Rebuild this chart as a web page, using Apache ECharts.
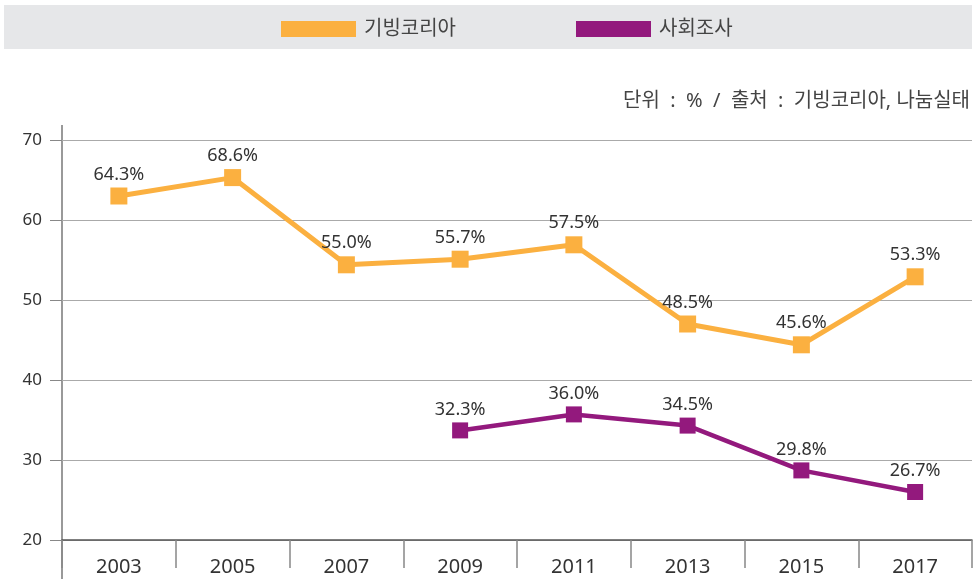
<!DOCTYPE html>
<html>
<head>
<meta charset="utf-8">
<script src="https://cdn.jsdelivr.net/npm/echarts@6/dist/echarts.min.js"></script>
<style>
  html, body { margin: 0; padding: 0; background: #fff; }
  #chart { width: 976px; height: 579px; }
</style>
</head>
<body>
<div id="chart"></div>
<script>
const years = ['2003', '2005', '2007', '2009', '2011', '2013', '2015', '2017'];
// 그림에서 읽은 점 위치 (라벨과 다소 다름)
const givingValues = [63.0, 65.3, 54.4, 55.1, 56.9, 47.0, 44.4, 52.9];
const givingLabels = ['64.3%', '68.6%', '55.0%', '55.7%', '57.5%', '48.5%', '45.6%', '53.3%'];
const surveyValues = [null, null, null, 33.7, 35.7, 34.3, 28.7, 26.0];
const surveyLabels = ['', '', '', '32.3%', '36.0%', '34.5%', '29.8%', '26.7%'];

const FONT = '"Noto Sans", "Noto Sans CJK KR", sans-serif';

const chart = echarts.init(document.getElementById('chart'), null, { renderer: 'canvas' });

const labelOf = (arr) => (p) => arr[p.dataIndex];

const option = {
  animation: false,
  textStyle: { fontFamily: FONT },
  graphic: [
    {
      type: 'rect', z: -1,
      shape: { x: 4, y: 5, width: 968, height: 44 },
      style: { fill: '#e6e7e9' }
    },
    {
      type: 'text', right: 6, top: 91,
      style: { text: '단위  :  %  /  출처  :  기빙코리아, 나눔실태', fontSize: 20, fill: '#444', fontFamily: FONT }
    },
    // 세로축 선이 그리드 위/아래로 조금 더 나와 있음
    {
      type: 'line',
      shape: { x1: 62, y1: 125, x2: 62, y2: 579 },
      style: { stroke: '#777', lineWidth: 1.5 }
    }
  ],
  legend: {
    left: 276, top: 14,
    icon: 'rect', itemWidth: 75, itemHeight: 16, itemGap: 120,
    textStyle: { fontSize: 20, color: '#444', fontFamily: FONT, padding: [0, 0, 0, 3] },
    data: ['기빙코리아', '사회조사']
  },
  grid: { left: 62, right: 4, top: 140, bottom: 39 },
  xAxis: {
    type: 'category',
    data: years,
    boundaryGap: true,
    axisLine: { lineStyle: { color: '#555', width: 1.5 } },
    axisTick: { show: true, interval: 0, length: 28, lineStyle: { color: '#888', width: 1.5 } },
    axisLabel: { fontSize: 20, color: '#333', margin: 17, fontFamily: FONT }
  },
  yAxis: {
    type: 'value',
    min: 20, max: 70, interval: 10,
    axisLine: { show: false },
    axisTick: { show: true, length: 12, lineStyle: { color: '#888' } },
    axisLabel: { fontSize: 17, color: '#333', margin: 20, fontFamily: FONT },
    splitLine: { lineStyle: { color: '#aaa', width: 1 } }
  },
  series: [
    {
      name: '기빙코리아',
      type: 'line',
      data: givingValues,
      color: '#fbb040',
      lineStyle: { width: 5, color: '#fbb040' },
      symbol: 'rect', symbolSize: 17,
      itemStyle: { color: '#fbb040' },
      label: { show: true, position: 'top', distance: 4, fontSize: 18, color: '#333', formatter: labelOf(givingLabels), fontFamily: FONT }
    },
    {
      name: '사회조사',
      type: 'line',
      data: surveyValues,
      color: '#93197d',
      lineStyle: { width: 4.5, color: '#93197d' },
      symbol: 'rect', symbolSize: 16,
      itemStyle: { color: '#93197d' },
      label: { show: true, position: 'top', distance: 4, fontSize: 18, color: '#333', formatter: labelOf(surveyLabels), fontFamily: FONT }
    }
  ]
};

chart.setOption(option);
</script>
</body>
</html>
